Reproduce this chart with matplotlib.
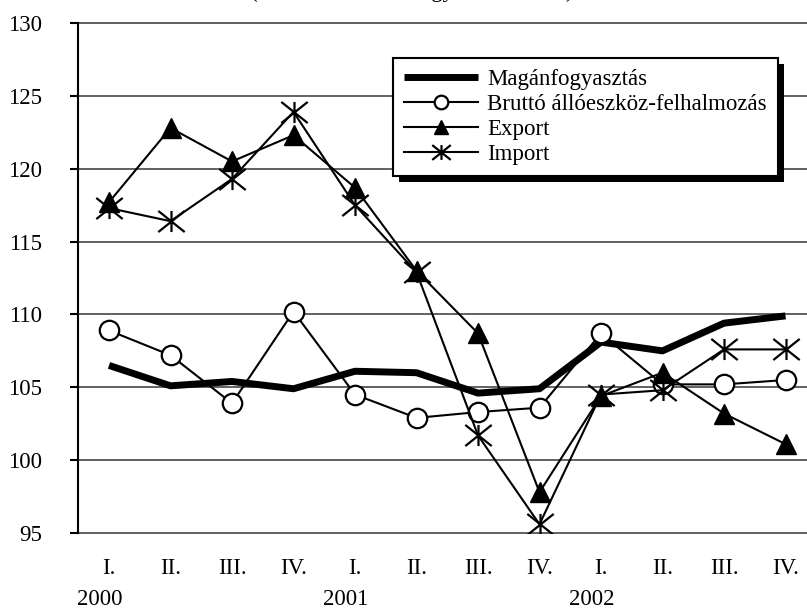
import matplotlib
matplotlib.use("Agg")
import matplotlib.pyplot as plt
from matplotlib.path import Path
import matplotlib.patheffects as pe

plt.rcParams['font.family'] = ['Liberation Serif', 'DejaVu Serif']

quarters = ["I.", "II.", "III.", "IV.", "I.", "II.", "III.", "IV.", "I.", "II.", "III.", "IV."]
years = ["2000", "2001", "2002"]
year_idx = [0, 4, 8]

magan = [106.5, 105.1, 105.4, 104.9, 106.1, 106.0, 104.6, 104.9, 108.1, 107.5, 109.4, 109.9]
brutto = [108.9, 107.2, 103.9, 110.2, 104.5, 102.9, 103.3, 103.6, 108.7, 105.2, 105.2, 105.5]
export = [117.7, 122.8, 120.5, 122.3, 118.7, 113.0, 108.7, 97.8, 104.4, 106.0, 103.2, 101.1]
importv = [117.3, 116.4, 119.3, 123.9, 117.5, 112.9, 101.7, 95.6, 104.5, 104.8, 107.6, 107.6]

yticks = [95, 100, 105, 110, 115, 120, 125, 130]
fs = 16.5

# asterisk: vertical bar plus a wide X
asterisk = Path([(0, -0.8), (0, 0.8), (-1, -0.8), (1, 0.8), (-1, 0.8), (1, -0.8)],
                [Path.MOVETO, Path.LINETO, Path.MOVETO, Path.LINETO, Path.MOVETO, Path.LINETO])

fig = plt.figure(figsize=(8.07, 6.09), dpi=100)
W, H = 807, 609
ax = fig.add_axes([78.25 / W, (H - 533) / H, 738 / W, 510 / H])

x = list(range(len(quarters)))
ax.plot(x, brutto, color='k', lw=1.5, marker='o', ms=14, mfc='white', mec='k', mew=1.6,
        label='Bruttó állóeszköz-felhalmozás', zorder=3)
ax.plot(x, export, color='k', lw=1.5, marker='^', ms=15, mfc='k', mec='k',
        label='Export', zorder=3)
ax.plot(x, importv, color='k', lw=1.5, marker=asterisk, ms=19, mec='k', mew=1.6,
        label='Import', zorder=3)
ax.plot(x, magan, color='k', lw=5, solid_capstyle='butt', label='Magánfogyasztás', zorder=2.5)

ax.set_xlim(-0.5, 11.5)
ax.set_ylim(95, 130)
ax.set_yticks(yticks)
ax.set_xticks(x)
ax.set_xticklabels(quarters)
ax.tick_params(axis='y', direction='out', length=6, width=1.5, pad=20, labelsize=fs)
ax.tick_params(axis='x', length=0, pad=18, labelsize=fs)

for s in ['top', 'right', 'bottom']:
    ax.spines[s].set_visible(False)
ax.spines['left'].set_linewidth(1.5)
ax.spines['left'].set_zorder(4)

ax.grid(axis='y', color='#555555', lw=1.3)
ax.set_axisbelow(True)
for gl in ax.get_ygridlines():
    gl.set_clip_on(False)

for i, yr in zip(year_idx, years):
    ax.text(i - 0.15, -0.13, yr, transform=ax.get_xaxis_transform(),
            ha='center', va='center', fontsize=fs)

# title sits above the visible area in the reference, only its descenders show
fig.text(0.51, 1.0 + 3 / H, "(előző év azonos negyedéve = 100)", ha='center', va='baseline',
         fontsize=fs)

handles, labels = ax.get_legend_handles_labels()
order = [3, 0, 1, 2]
leg = ax.legend([handles[k] for k in order], [labels[k] for k in order],
                loc='upper left', bbox_to_anchor=(393 / W, 1 - 58 / H),
                bbox_transform=fig.transFigure, borderaxespad=0,
                fontsize=fs, handlelength=3.2, handletextpad=0.4,
                labelspacing=0.16, borderpad=0.5, markerscale=0.7,
                fancybox=False, framealpha=1, edgecolor='k')
leg.get_frame().set_linewidth(1.5)
leg.get_frame().set_path_effects([pe.SimplePatchShadow(offset=(4.5, -4.5), shadow_rgbFace='k', alpha=1),
                                  pe.Normal()])

fig.savefig("out.png", dpi=100)
